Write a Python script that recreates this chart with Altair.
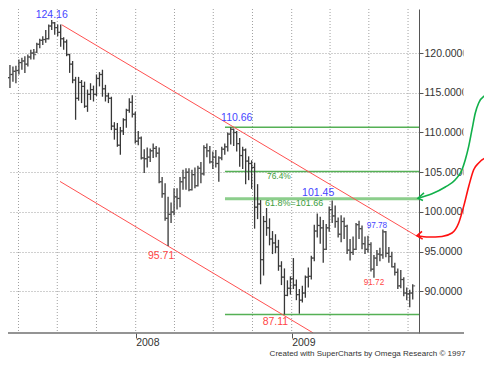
import altair as alt
import pandas as pd

FONT = "Liberation Sans"

# ---------------- data (weekly OHLC) ----------------
first_week = "2007-02-26"
opens = [121.0,116.7,116.9,117.3,117.7,117.8,118.8,119.0,118.6,119.5,
         120.0,120.1,121.1,121.6,121.7,121.8,123.4,123.8,123.2,122.6,
         121.8,121.4,119.8,118.6,116.6,114.3,116.3,115.8,113.3,114.8,
         115.4,114.8,116.8,117.3,115.5,114.6,114.3,110.8,110.4,108.4,
         110.2,111.6,112.8,113.8,112.3,108.9,109.3,106.8,106.7,106.9,
         107.7,108.0,107.4,103.8,102.3,99.2,99.7,100.0,101.9,101.7,
         103.8,104.3,105.0,102.8,104.7,103.3,105.5,104.8,108.1,107.7,
         106.3,106.9,106.1,106.8,107.9,108.2,109.8,110.4,110.0,108.6,
         107.1,107.8,106.4,106.1,105.6,100.6,101.0,94.0,98.8,98.0,
         96.6,96.1,95.6,93.2,91.8,89.5,90.4,91.6,90.8,89.6,
         88.9,89.8,91.8,91.9,94.2,97.6,98.3,98.0,95.3,98.0,
         100.3,99.5,98.8,97.2,98.8,98.2,95.2,94.9,95.3,98.4,
         97.9,96.0,95.3,95.9,92.8,94.2,94.7,94.6,97.5,94.8,
         94.4,93.1,92.4,90.7,91.5,89.8,89.7,89.8]
highs = [121.1,118.3,118.5,118.3,118.4,119.2,119.4,119.6,119.8,120.4,
         120.5,121.3,121.8,122.1,122.9,123.6,124.16,123.9,123.6,123.6,
         122.0,121.7,119.9,119.0,117.0,117.0,116.6,116.4,115.4,116.2,
         115.9,117.3,117.6,117.9,116.0,115.0,114.5,111.3,111.2,110.7,
         111.8,113.0,114.3,114.7,112.6,110.2,109.5,107.9,108.1,108.0,
         108.6,108.3,108.1,104.4,103.6,101.9,101.2,103.0,103.0,104.4,
         105.3,105.5,105.5,105.3,105.6,105.8,106.3,108.4,108.6,108.3,
         107.6,107.8,107.0,108.2,108.6,110.0,110.66,110.5,110.2,109.3,
         108.2,108.0,107.0,106.5,106.2,103.5,101.5,99.5,100.5,99.2,
         97.6,97.2,96.5,93.8,92.9,91.4,91.9,94.2,91.5,90.3,
         90.7,92.0,93.0,94.5,98.4,99.8,99.4,99.0,98.5,100.7,
         101.45,100.8,99.3,99.6,99.3,98.4,96.6,96.9,98.6,98.9,
         98.3,96.9,97.0,96.2,94.6,95.2,95.5,97.78,97.6,95.6,
         95.0,93.6,92.9,92.7,91.8,90.5,90.2,90.9]
lows = [116.4,115.0,115.6,116.4,116.2,117.3,117.9,117.5,118.3,119.2,
        119.2,120.0,120.6,121.0,121.3,121.7,122.9,122.3,122.1,120.8,
        120.4,119.6,117.5,116.2,111.6,114.0,113.7,113.1,112.6,114.1,
        113.9,114.6,115.8,114.5,113.9,113.7,110.3,109.1,108.2,107.2,
        109.7,110.6,112.5,111.9,108.6,108.4,106.6,104.9,105.6,106.3,
        106.8,106.9,103.6,101.8,98.9,95.71,98.6,99.6,100.3,100.6,
        102.8,102.8,102.6,102.7,103.0,103.2,103.6,104.6,106.9,106.1,
        105.4,105.6,103.8,106.5,107.2,107.6,108.5,108.3,107.6,105.7,
        105.4,103.5,104.0,102.9,97.9,99.1,90.9,92.0,97.0,95.8,
        94.7,94.8,92.6,90.8,87.11,89.4,89.6,90.3,88.9,87.2,
        88.6,89.2,90.5,91.5,93.8,96.8,96.0,93.6,95.2,97.5,
        98.6,98.0,96.8,96.2,96.6,94.7,93.9,94.6,95.2,96.6,
        95.3,94.7,94.9,92.5,91.72,93.2,93.8,94.1,94.3,93.6,
        93.0,92.0,90.3,90.4,89.4,88.9,88.0,89.0]
closes = [116.7,116.9,117.3,117.7,117.8,118.8,119.0,118.6,119.5,120.0,
          119.8,121.1,121.6,121.7,121.8,123.4,123.8,123.2,122.6,121.8,
          121.4,119.8,118.6,116.6,114.3,116.3,115.8,113.3,114.8,115.4,
          114.8,116.8,117.3,115.5,114.6,114.3,110.8,110.4,108.4,110.2,
          111.6,112.8,113.8,112.3,108.9,109.3,106.8,106.7,106.9,107.7,
          108.0,107.4,103.8,102.3,99.2,99.7,100.0,101.9,101.7,103.8,
          104.3,105.0,102.8,104.7,103.3,105.5,104.8,108.1,107.7,106.3,
          106.9,106.1,106.8,107.9,108.2,109.8,110.4,110.0,108.6,107.1,
          107.8,106.4,106.1,105.6,100.6,101.0,94.0,98.8,98.0,96.6,
          96.1,95.6,93.2,91.8,89.5,90.4,91.6,90.8,89.6,88.9,
          89.8,91.8,91.9,94.2,97.6,98.3,98.0,95.3,98.0,100.3,
          99.5,98.8,97.2,98.8,98.2,95.2,94.9,95.3,98.4,97.9,
          96.0,95.3,95.9,92.8,94.2,94.7,94.6,97.5,94.8,94.4,
          93.1,92.4,90.7,91.5,89.8,89.7,89.8,90.7]

week_dates = list(pd.date_range(first_week, periods=len(opens), freq="7D").strftime("%Y-%m-%d"))

# peak / trough labels
peak_text = ["124.16", "110.66", "101.45", "97.78", "95.71", "87.11", "91.72"]
peak_value = [124.16, 110.66, 101.45, 97.78, 95.71, 87.11, 91.72]
peak_bar = [16, 76, 110, 127, 55, 94, 124]

# Fibonacci levels (green)
fib_levels = [110.66, 105.10, 101.66, 87.11]
fib_start = "2008-07-28T12:00:00Z"
fib_end = "2009-10-26T16:48:00Z"
fib_text = ["76.4%", "61.8%=101.66"]
fib_text_level = [105.10, 101.66]

# red channel lines (start date, start value, end date, end value)
chan_start_date = ["2007-07-11T09:36:00Z", "2007-07-07T09:36:00Z"]
chan_start_val = [123.56, 103.84]
chan_end_date = ["2009-10-26T16:48:00Z", "2009-02-20T16:48:00Z"]
chan_end_val = [96.80, 84.77]

# quarterly grid
grid_dates = ["2007-04-01", "2007-07-01", "2007-10-01", "2008-01-01", "2008-04-01",
              "2008-07-01", "2008-10-01", "2009-01-01", "2009-04-01", "2009-07-01",
              "2009-10-01"]
y_ticks = [90, 95, 100, 105, 110, 115, 120]
year_ticks = [2008, 2009]

# hand drawn arrows (days after 2008-01-01, price)
epoch = pd.Timestamp("2008-01-01")
green_curve_day = [662.3, 695.2, 726.4, 749.8, 765.6, 773.3, 781.3, 789.0, 796.8, 804.7, 816.5, 828.2, 836.0]
green_curve_val = [101.73, 102.29, 103.14, 104.06, 105.32, 106.57, 108.25, 110.35, 112.45, 113.71, 114.54, 114.75, 114.63]
red_curve_day = [660.0, 687.4, 718.6, 742.1, 757.8, 769.5, 781.3, 793.0, 804.7, 819.5, 836.0]
red_curve_val = [97.01, 96.85, 96.92, 97.35, 98.61, 100.70, 103.21, 105.32, 106.16, 106.76, 106.91]
green_head_day = [676.4, 662.3, 674.0]
green_head_val = [102.39, 101.73, 101.45]
red_head_day = [671.7, 660.0, 673.3]
red_head_val = [97.55, 97.01, 96.59]

credit = "Created with SuperCharts by Omega Research \u00a9 1997"


def to_iso(days):
    return [(epoch + pd.Timedelta(days=d)).strftime("%Y-%m-%dT%H:%M:%SZ") for d in days]


# ---------------- scales / axes ----------------
xscale = alt.Scale(type="utc", domain=[
    alt.DateTime(year=2007, month=3, date=7, hours=9, minutes=36, utc=True),
    alt.DateTime(year=2009, month=10, date=26, hours=16, minutes=48, utc=True)])
xaxis = alt.Axis(values=[alt.DateTime(year=y, month=1, date=1, utc=True) for y in year_ticks],
                 labelExpr="utcFormat(datum.value, '%Y')", grid=False, domain=False,
                 tickSize=5, tickColor="#555555", labelAlign="left", labelBaseline="middle",
                 labelPadding=4, labelFontSize=10.5, labelFont=FONT,
                 labelColor="#333333", title=None, labelFlush=False, labelOverlap=False)
yscale = alt.Scale(domain=[84.77, 125.54], nice=False, zero=False)
yaxis = alt.Axis(orient="right", values=y_ticks, format=".4f", grid=True, gridDash=[1, 2],
                 gridColor="#a0a0a0", domain=True, domainColor="#555555", tickSize=4,
                 tickColor="#555555", labelPadding=1, labelFontSize=10.5, labelFont=FONT,
                 labelColor="#333333", title=None, labelBaseline="middle")


def X(field):
    return alt.X(f"{field}:T", scale=xscale, axis=xaxis)


def Y(field):
    return alt.Y(f"{field}:Q", scale=yscale, axis=yaxis)


bars = pd.DataFrame({"date": week_dates, "open": opens, "high": highs, "low": lows, "close": closes})

vgrid = alt.Chart(pd.DataFrame({"date": grid_dates})).mark_rule(
    color="#a0a0a0", strokeDash=[1, 2], strokeWidth=1).encode(x=X("date"))

fib_df = pd.DataFrame({"v": fib_levels, "s": [fib_start] * 4, "e": [fib_end] * 4})
fib_thin = alt.Chart(fib_df).transform_filter("datum.v != 101.66").mark_rule(
    color="#55b055", strokeWidth=1.5).encode(x=X("s"), x2="e:T", y=Y("v"))
fib_thick = alt.Chart(fib_df).transform_filter("datum.v == 101.66").mark_rule(
    color="#8cce8c", strokeWidth=3).encode(x=X("s"), x2="e:T", y=Y("v"))

chan = alt.Chart(pd.DataFrame({"s": chan_start_date, "sv": chan_start_val,
                               "e": chan_end_date, "ev": chan_end_val})).mark_rule(
    color="#ff5050", strokeWidth=1, clip=True).encode(x=X("s"), x2="e:T", y=Y("sv"), y2="ev:Q")

bar_rule = alt.Chart(bars).mark_rule(color="#383838", strokeWidth=1.3, clip=True).encode(
    x=X("date"), y=Y("low"), y2="high:Q")
open_tick = alt.Chart(bars).mark_tick(orient="horizontal", size=2, thickness=1.2, xOffset=-1.4,
                                      color="#383838", clip=True).encode(x=X("date"), y=Y("open"))
close_tick = alt.Chart(bars).mark_tick(orient="horizontal", size=2, thickness=1.2, xOffset=1.4,
                                       color="#383838", clip=True).encode(x=X("date"), y=Y("close"))


def peak_label(k, dx, dy, color, size):
    d = pd.DataFrame({"date": [week_dates[peak_bar[k]]], "v": [peak_value[k]], "t": [peak_text[k]]})
    return alt.Chart(d).mark_text(dx=dx, dy=dy, color=color, fontSize=size, font=FONT,
                                  align="center", baseline="middle").encode(
        x=X("date"), y=Y("v"), text="t:N")


BLUE = "#4646ff"
RED = "#ff4646"
labels = [
    peak_label(0, 0, -4.5, BLUE, 10.5),
    peak_label(1, 6, -9.5, BLUE, 10.5),
    peak_label(2, -14, -7, BLUE, 10.5),
    peak_label(3, -6, -4, BLUE, 8.2),
    peak_label(4, -7, 9.5, RED, 10.5),
    peak_label(5, -9, 7.5, RED, 10.5),
    peak_label(6, 0, 5.5, RED, 8.2),
]


def fib_label(k, dx, dy, size):
    d = pd.DataFrame({"date": [fib_start], "v": [fib_text_level[k]], "t": [fib_text[k]]})
    return alt.Chart(d).mark_text(dx=dx, dy=dy, color="#3c9c3c", fontSize=size, font=FONT,
                                  align="left", baseline="middle").encode(
        x=X("date"), y=Y("v"), text="t:N")


fib_labels = [fib_label(0, 42, 5, 8.4), fib_label(1, 40, 4.5, 9)]

one = pd.DataFrame({"t": [credit]})
mask = alt.Chart(one).mark_rect(color="white").encode(
    x=alt.value(455.5), x2=alt.value(476), y=alt.value(0), y2=alt.value(312))
bottom_line = alt.Chart(one).mark_rule(color="#707070", strokeWidth=1.5).encode(
    x=alt.value(0), x2=alt.value(456), y=alt.value(324))


def curve(days, vals, color, interp, ordered):
    d = pd.DataFrame({"date": to_iso(days), "v": vals, "o": list(range(len(days)))})
    enc = dict(x=X("date"), y=Y("v"))
    if ordered:
        enc["order"] = "o:Q"
    return alt.Chart(d).mark_line(color=color, strokeWidth=1.6, interpolate=interp).encode(**enc)


GREEN_ARROW = "#11b04a"
RED_ARROW = "#ff1010"
arrows = [
    curve(green_curve_day, green_curve_val, GREEN_ARROW, "monotone", False),
    curve(green_head_day, green_head_val, GREEN_ARROW, "linear", True),
    curve(red_curve_day, red_curve_val, RED_ARROW, "monotone", False),
    curve(red_head_day, red_head_val, RED_ARROW, "linear", True),
]

credit_text = alt.Chart(one).mark_text(fontSize=8, font=FONT, color="#333333", align="center",
                                       baseline="middle").encode(
    x=alt.value(359.5), y=alt.value(345), text="t:N")

chart = alt.layer(
    vgrid, fib_thin, fib_thick, chan, bar_rule, open_tick, close_tick,
    *labels, *fib_labels, mask, bottom_line, *arrows, credit_text
).properties(
    width=411, height=324,
    autosize=alt.AutoSizeParams(type="none"),
    padding={"left": 0, "top": 1, "right": 65, "bottom": 26},
    background="white",
).configure_view(stroke=None)

chart.save("out.html", embed_options={"renderer": "svg", "actions": False})
